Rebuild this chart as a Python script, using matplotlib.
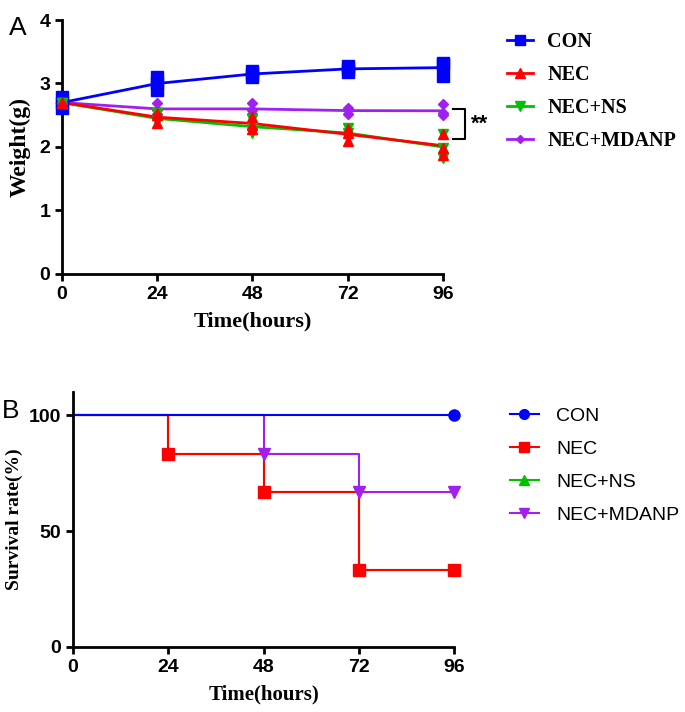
import numpy as np
import matplotlib
matplotlib.use('Agg')
import matplotlib.pyplot as plt

hours = [0, 24, 48, 72, 96]
groups = ['CON', 'NEC', 'NEC+NS', 'NEC+MDANP']

# weights, three pups per time point
w_con = [[2.62, 2.70, 2.78], [2.90, 3.00, 3.10], [3.10, 3.15, 3.20],
         [3.18, 3.23, 3.28], [3.12, 3.30, 3.33]]
w_nec = [[2.70, 2.70, 2.70], [2.38, 2.50, 2.53], [2.28, 2.35, 2.48],
         [2.10, 2.22, 2.28], [1.88, 1.98, 2.20]]
w_ns = [[2.70, 2.70, 2.70], [2.40, 2.42, 2.53], [2.22, 2.30, 2.44],
        [2.14, 2.22, 2.30], [1.82, 1.98, 2.20]]
w_mdanp = [[2.70, 2.70, 2.70], [2.52, 2.58, 2.70], [2.52, 2.58, 2.70],
           [2.52, 2.58, 2.62], [2.50, 2.53, 2.68]]

# survival (%)
s_con = [100, 100, 100, 100, 100]
s_nec = [100, 83.3, 66.7, 33.3, 33.3]
s_ns = [100, 83.3, 66.7, 33.3, 33.3]
s_mdanp = [100, 100, 83.3, 66.7, 66.7]

colors = ['#0000ff', '#ff0000', '#00c000', '#a020f0']
serif = 'Liberation Serif'
sans = 'Liberation Sans'

fig = plt.figure(figsize=(6.85, 7.12), dpi=100)

def style_axes(ax):
  for s in ['top', 'right']:
    ax.spines[s].set_visible(False)
  for s in ['left', 'bottom']:
    ax.spines[s].set_linewidth(2)
  ax.tick_params(direction='out', length=5, width=2)
  for lab in ax.get_xticklabels() + ax.get_yticklabels():
    lab.set_fontfamily(sans)
    lab.set_fontweight('bold')
    lab.set_fontsize(14)

# ---- panel A
ax = fig.add_axes([0.0905, 0.6152, 0.5562, 0.3567])
data = [w_con, w_nec, w_ns, w_mdanp]
marks = ['s', '^', 'v', 'D']
msz = [8, 7.5, 7.5, 5]
handles = []
for k in [0, 3, 2, 1]:
  arr = np.array(data[k])
  mean = arr.mean(axis=1)
  for j in range(arr.shape[1]):
    ax.plot(hours, arr[:, j], linestyle='none', marker=marks[k],
            ms=msz[k], color=colors[k], clip_on=False, zorder=3)
  ax.plot(hours, mean, color=colors[k], lw=2, clip_on=False, zorder=2)
for k in range(4):
  h, = ax.plot([], [], color=colors[k], lw=2, marker=marks[k], ms=msz[k] * 0.9)
  handles.append(h)
ax.set_xlim(0, 96)
ax.set_ylim(0, 4)
ax.set_xticks(hours)
ax.set_yticks([0, 1, 2, 3, 4])
style_axes(ax)
ax.set_xlabel('Time(hours)', fontfamily=serif, fontweight='bold', fontsize=16, labelpad=6)
ax.set_ylabel('Weight(g)', fontfamily=serif, fontweight='bold', fontsize=17, labelpad=6)
leg = ax.legend(handles, groups, loc='upper left', bbox_to_anchor=(1.12, 1.025),
                frameon=False, prop={'family': serif, 'weight': 'bold', 'size': 14.5},
                handlelength=1.3, handletextpad=0.7, labelspacing=0.65)
# significance bracket
bx0, bx1 = 98.5, 101.5
ya, yb = 2.6, 2.13
ax.plot([bx0, bx1, bx1, bx0], [ya, ya, yb, yb], color='black', lw=1.5, clip_on=False)
ax.text(103, (ya + yb) / 2, '**', fontsize=16, fontweight='bold', fontfamily=sans,
        va='center', ha='left')
fig.text(0.013, 0.978, 'A', fontsize=19, fontfamily=sans, va='top')

# ---- panel B
bx = fig.add_axes([0.1066, 0.0913, 0.5562, 0.3581])
surv = [s_con, s_nec, s_ns, s_mdanp]
smarks = ['o', 's', '^', 'v']
smsz = [8, 8, 7, 8]
shandles = []
for k in [2, 1, 3, 0]:
  bx.step(hours, surv[k], where='post', color=colors[k], lw=1.5, clip_on=False, zorder=2)
  # markers where the curve drops, plus the last point
  mx = [hours[i] for i in range(1, len(hours)) if surv[k][i] != surv[k][i - 1]] + [hours[-1]]
  my = [surv[k][hours.index(x)] for x in mx]
  bx.plot(mx, my, linestyle='none', marker=smarks[k], ms=smsz[k], color=colors[k],
          clip_on=False, zorder=3)
for k in range(4):
  h, = bx.plot([], [], color=colors[k], lw=1.5, marker=smarks[k], ms=7)
  shandles.append(h)
bx.set_xlim(0, 96)
bx.set_ylim(0, 110)
bx.set_xticks(hours)
bx.set_yticks([0, 50, 100])
style_axes(bx)
bx.set_xlabel('Time(hours)', fontfamily=serif, fontweight='bold', fontsize=15, labelpad=6)
bx.set_ylabel('Survival rate(%)', fontfamily=serif, fontweight='bold', fontsize=14, labelpad=4)
bx.legend(shandles, groups, loc='upper left', bbox_to_anchor=(1.1, 1.01),
          frameon=False, prop={'family': sans, 'size': 14},
          handlelength=1.5, handletextpad=0.9, labelspacing=0.8)
fig.text(0.003, 0.44, 'B', fontsize=19, fontfamily=sans, va='top')

fig.savefig('out.png', dpi=100)
